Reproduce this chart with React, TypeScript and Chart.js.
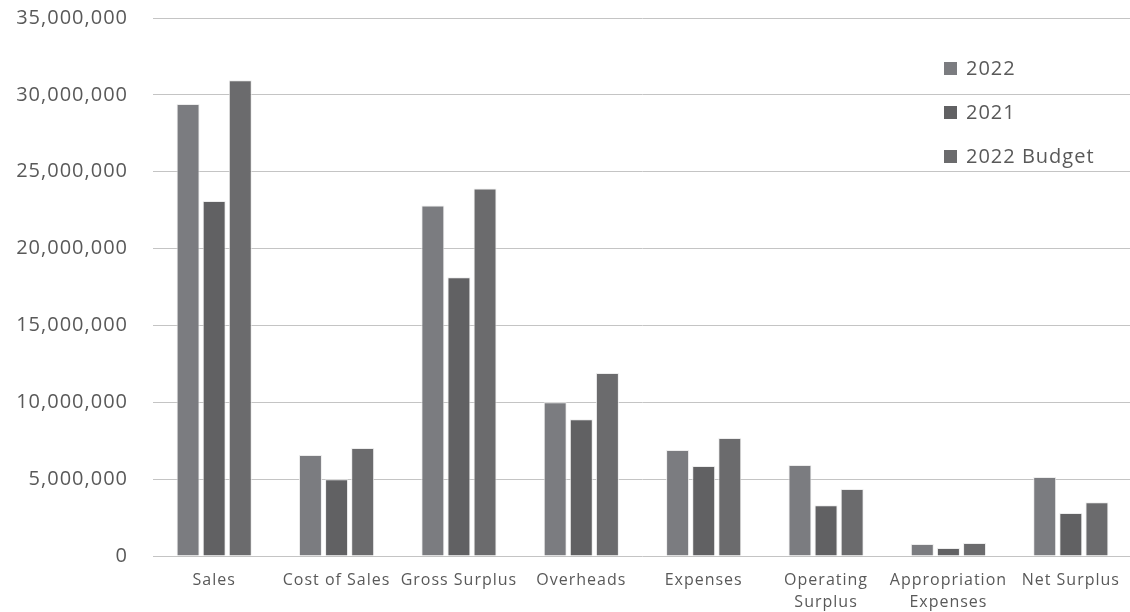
import React, { useEffect, useRef } from "react";
import { Chart, registerables } from "chart.js";

Chart.register(...registerables);

const categories: (string | string[])[] = [
  "Sales",
  "Cost of Sales",
  "Gross Surplus",
  "Overheads",
  "Expenses",
  ["Operating", "Surplus"],
  ["Appropriation", "Expenses"],
  "Net Surplus",
];

const seriesNames = ["2022", "2021", "2022 Budget"];
const values2022 = [29400000, 6570000, 22800000, 10000000, 6900000, 5920000, 780000, 5140000];
const values2021 = [23100000, 5000000, 18140000, 8900000, 5850000, 3300000, 520000, 2800000];
const valuesBudget = [30950000, 7020000, 23900000, 11900000, 7670000, 4360000, 850000, 3500000];
const seriesColors = ["#7b7c80", "#616163", "#6b6b6d"];

const yMax = 35000000;
const yStep = 5000000;

const FONT = "'Open Sans', sans-serif";
const TEXT = "#595959";

const spacingPlugin = {
  id: "spacing",
  beforeDraw(chart: any) {
    try {
      chart.ctx.letterSpacing = "1px";
    } catch (e) {}
  },
};

const legendPlugin = {
  id: "sideLegend",
  afterDraw(chart: any) {
    const ctx = chart.ctx;
    ctx.save();
    try {
      ctx.letterSpacing = "1px";
    } catch (e) {}
    ctx.font = `20px ${FONT}`;
    ctx.textBaseline = "middle";
    ctx.textAlign = "left";
    chart.data.datasets.forEach((ds: any, i: number) => {
      const y = 68 + i * 44;
      ctx.fillStyle = ds.backgroundColor;
      ctx.fillRect(944, y - 6, 13, 13);
      ctx.fillStyle = TEXT;
      ctx.fillText(ds.label, 966, y + 1);
    });
    ctx.restore();
    try {
      ctx.letterSpacing = "0px";
    } catch (e) {}
  },
};

export default function App() {
  const ref = useRef<HTMLCanvasElement | null>(null);
  useEffect(() => {
    document.body.style.margin = "0";
    document.body.style.overflow = "hidden";
    const data = [values2022, values2021, valuesBudget];
    const chart = new Chart(ref.current!, {
      type: "bar",
      data: {
        labels: categories,
        datasets: seriesNames.map((name, i) => ({
          label: name,
          data: data[i],
          backgroundColor: seriesColors[i],
          borderColor: "rgba(235,235,235,0.9)",
          borderWidth: 1,
          categoryPercentage: 0.64,
          barPercentage: 0.88,
        })),
      },
      options: {
        animation: false,
        responsive: false,
        layout: { padding: { top: 0, right: 0, left: 0, bottom: 0 } },
        plugins: { legend: { display: false }, tooltip: { enabled: false } },
        scales: {
          x: {
            grid: { display: false },
            border: { display: false },
            ticks: {
              color: TEXT,
              font: { family: FONT, size: 16, lineHeight: 1.35 },
              padding: 6,
              maxRotation: 0,
              autoSkip: false,
            },
            afterFit(scale: any) {
              scale.height = 56;
              scale.paddingLeft = 0;
              scale.paddingRight = 0;
            },
          },
          y: {
            min: 0,
            max: yMax,
            grid: { color: "#c4c4c4", drawTicks: false, lineWidth: 1 },
            border: { display: false },
            ticks: {
              stepSize: yStep,
              color: TEXT,
              font: { family: FONT, size: 20 },
              padding: 25,
              callback: (v: any) => Number(v).toLocaleString("en-US"),
            },
            afterFit(scale: any) {
              scale.width = 153;
              scale.paddingTop = 18;
              scale.paddingBottom = 0;
            },
          },
        },
      },
      plugins: [spacingPlugin, legendPlugin],
    });
    return () => chart.destroy();
  }, []);
  return (
    <div style={{ width: 1132, height: 612 }}>
      <canvas ref={ref} width={1132} height={612} />
    </div>
  );
}
